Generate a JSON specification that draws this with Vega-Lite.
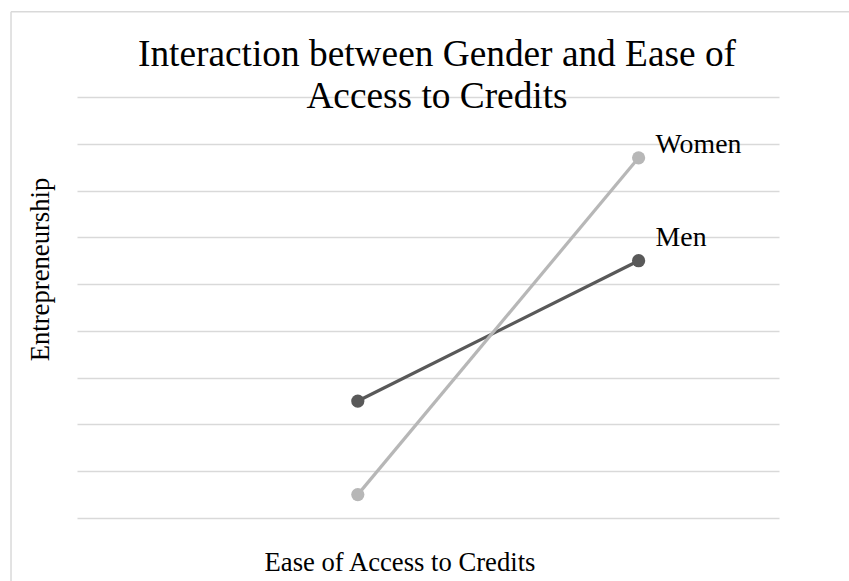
{
  "$schema": "https://vega.github.io/schema/vega-lite/v6.json",
  "width": 702,
  "height": 421,
  "autosize": {"type": "none"},
  "padding": {"left": 77, "top": 97, "right": 70, "bottom": 63},
  "background": "white",
  "config": {"view": {"stroke": null}, "font": "Liberation Serif"},
  "title": {
    "text": ["Interaction between Gender and Ease of", "Access to Credits"],
    "font": "Liberation Serif",
    "fontSize": 37.33,
    "fontWeight": "normal",
    "color": "#000000",
    "lineHeight": 42,
    "dx": 9,
    "dy": 105,
    "baseline": "top",
    "offset": 0
  },
  "data": {
    "values": [
      {"gender": "Men", "access": 1, "entrepreneurship": 2.5},
      {"gender": "Men", "access": 2, "entrepreneurship": 5.5},
      {"gender": "Women", "access": 1, "entrepreneurship": 0.5},
      {"gender": "Women", "access": 2, "entrepreneurship": 7.7}
    ]
  },
  "layer": [
    {
      "transform": [{"filter": "datum.gender === 'Men'"}],
      "mark": {"type": "line", "color": "#595959", "strokeWidth": 3.2},
      "encoding": {
        "x": {
          "field": "access", "type": "quantitative",
          "scale": {"domain": [0, 2.5], "nice": false, "zero": false},
          "axis": {
            "title": "Ease of Access to Credits",
            "labels": false, "ticks": false, "domain": false, "grid": false,
            "titleFont": "Liberation Serif", "titleFontSize": 26.67, "titleFontWeight": "normal",
            "titleColor": "#000000", "titleX": 322.5, "titleY": 52,
            "titleAlign": "center", "titleBaseline": "alphabetic"
          }
        },
        "y": {
          "field": "entrepreneurship", "type": "quantitative",
          "scale": {"domain": [0, 9], "nice": false, "zero": false},
          "axis": {
            "title": "Entrepreneurship",
            "values": [0, 1, 2, 3, 4, 5, 6, 7, 8, 9],
            "labels": false, "ticks": false, "domain": false, "grid": true,
            "gridColor": "#d9d9d9", "gridWidth": 1.5,
            "titleFont": "Liberation Serif", "titleFontSize": 26.67, "titleFontWeight": "normal",
            "titleColor": "#000000", "titleAngle": 270, "titleX": -29, "titleY": 172,
            "titleAlign": "center", "titleBaseline": "alphabetic"
          }
        }
      }
    },
    {
      "transform": [{"filter": "datum.gender === 'Men'"}],
      "mark": {"type": "point", "filled": true, "opacity": 1, "color": "#595959", "size": 175},
      "encoding": {
        "x": {"field": "access", "type": "quantitative"},
        "y": {"field": "entrepreneurship", "type": "quantitative"}
      }
    },
    {
      "transform": [{"filter": "datum.gender === 'Women'"}],
      "mark": {"type": "line", "color": "#b7b7b7", "strokeWidth": 3.2},
      "encoding": {
        "x": {"field": "access", "type": "quantitative"},
        "y": {"field": "entrepreneurship", "type": "quantitative"}
      }
    },
    {
      "transform": [{"filter": "datum.gender === 'Women'"}],
      "mark": {"type": "point", "filled": true, "opacity": 1, "color": "#b7b7b7", "size": 175},
      "encoding": {
        "x": {"field": "access", "type": "quantitative"},
        "y": {"field": "entrepreneurship", "type": "quantitative"}
      }
    },
    {
      "transform": [{"filter": "datum.gender === 'Women' && datum.access === 2"}],
      "mark": {"type": "text", "align": "left", "baseline": "alphabetic", "dx": 17, "dy": -5.3, "font": "Liberation Serif", "fontSize": 27.8, "color": "#000000"},
      "encoding": {
        "x": {"field": "access", "type": "quantitative"},
        "y": {"field": "entrepreneurship", "type": "quantitative"},
        "text": {"field": "gender"}
      }
    },
    {
      "transform": [{"filter": "datum.gender === 'Men' && datum.access === 2"}],
      "mark": {"type": "text", "align": "left", "baseline": "alphabetic", "dx": 17, "dy": -14.3, "font": "Liberation Serif", "fontSize": 27.8, "color": "#000000"},
      "encoding": {
        "x": {"field": "access", "type": "quantitative"},
        "y": {"field": "entrepreneurship", "type": "quantitative"},
        "text": {"field": "gender"}
      }
    },
    {
      "data": {"values": [{"edge": "top"}]},
      "mark": {"type": "rule", "color": "#d9d9d9", "strokeWidth": 1.5, "clip": false},
      "encoding": {
        "x": {"datum": -0.235},
        "x2": {"datum": 3.5},
        "y": {"datum": 10.82}
      }
    },
    {
      "data": {"values": [{"edge": "left"}]},
      "mark": {"type": "rule", "color": "#d9d9d9", "strokeWidth": 1.5, "clip": false},
      "encoding": {
        "x": {"datum": -0.235},
        "y": {"datum": 10.82},
        "y2": {"datum": -2.5}
      }
    }
  ]
}
